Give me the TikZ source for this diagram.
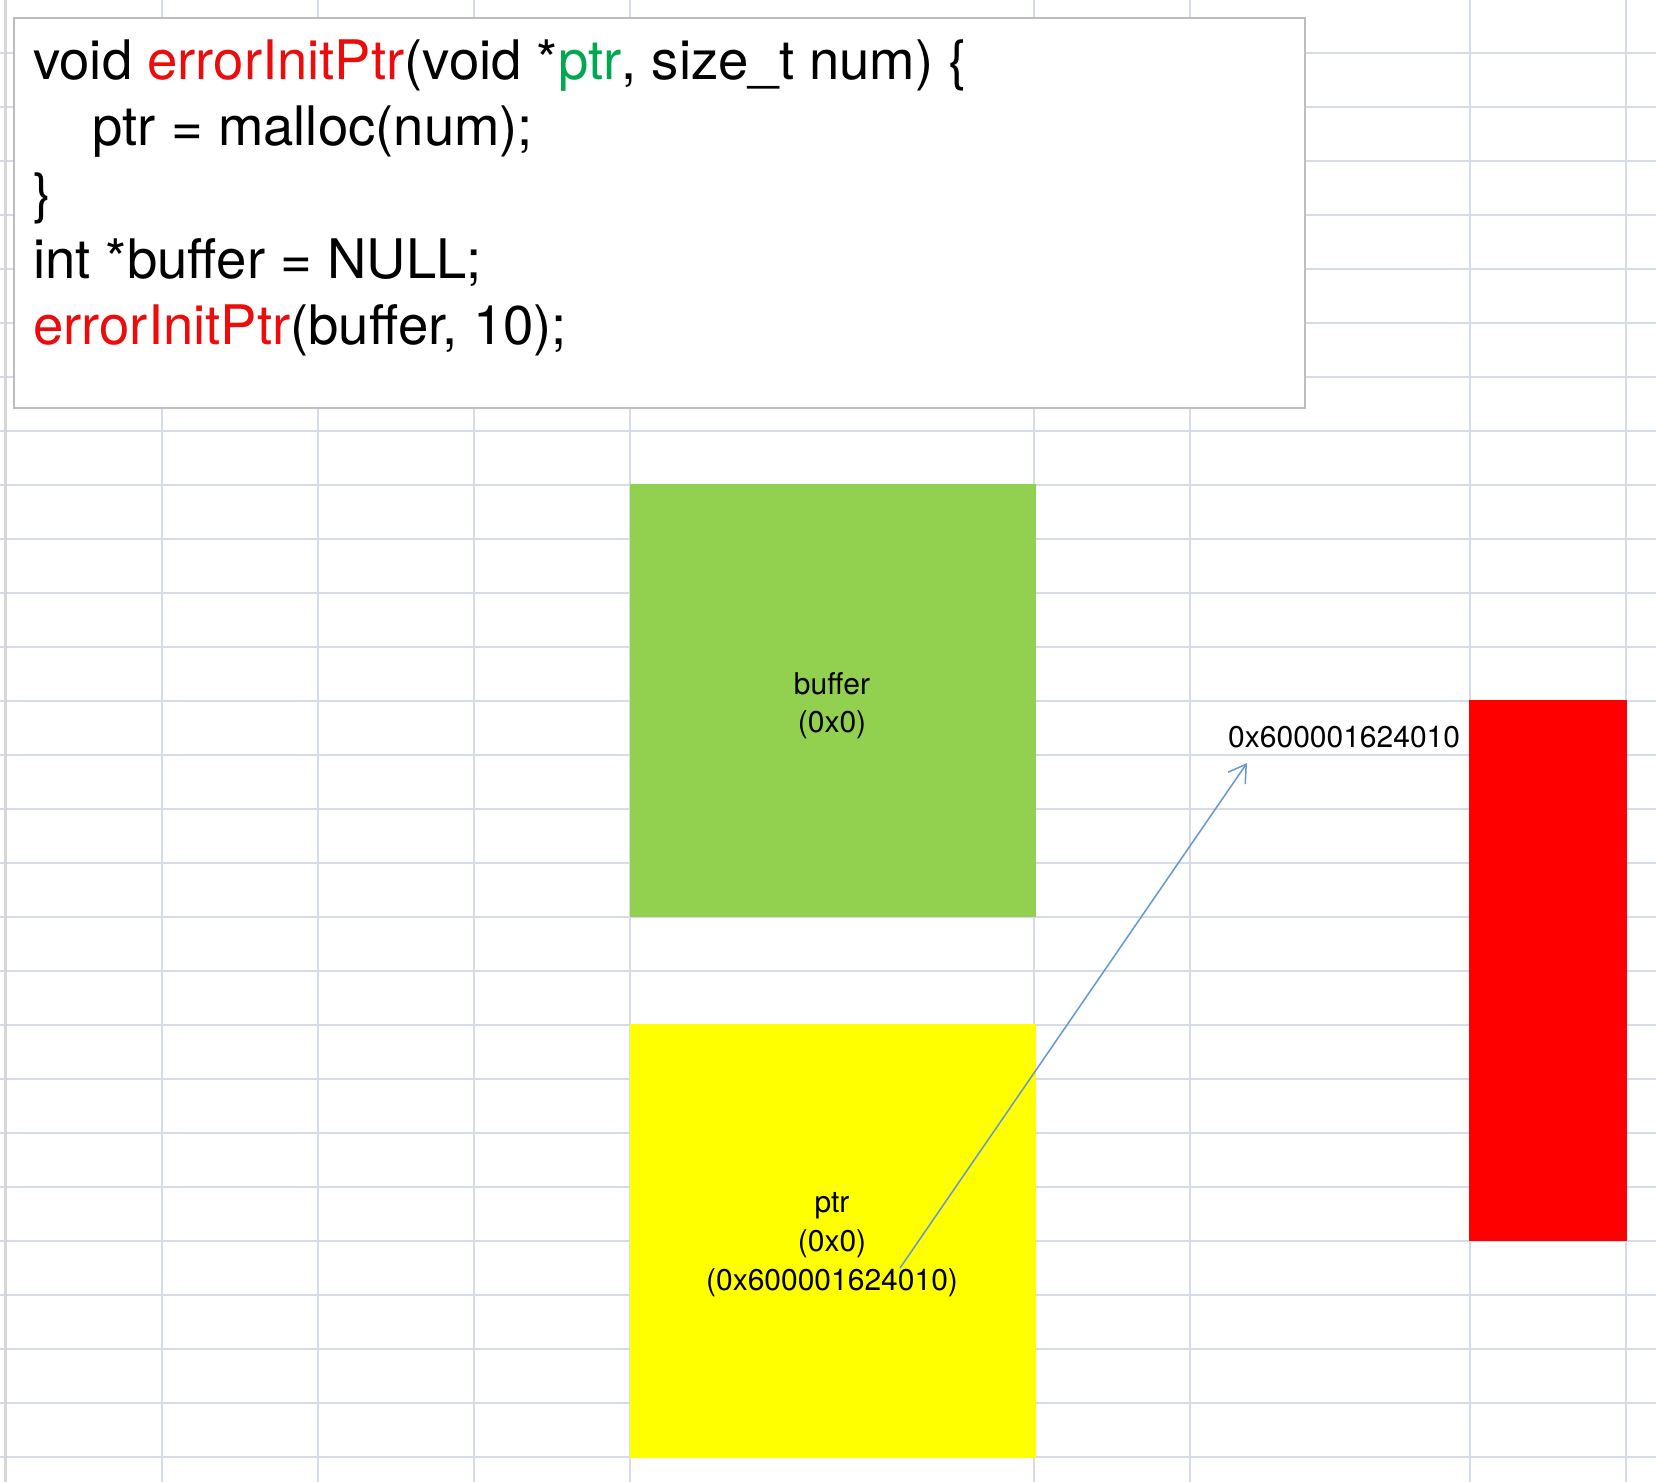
\documentclass[tikz,border=0pt]{standalone}
\usepackage{fontspec}
\setmainfont{TeX Gyre Heros}
\usetikzlibrary{arrows.meta}
\definecolor{gridc}{RGB}{214,219,232}
\definecolor{edgec}{RGB}{214,214,214}
\definecolor{boxborder}{RGB}{189,189,189}
\definecolor{fnred}{RGB}{236,12,12}
\definecolor{argg}{RGB}{0,168,80}
\definecolor{bufgreen}{RGB}{146,208,80}
\definecolor{ptryellow}{RGB}{255,255,0}
\definecolor{heapred}{RGB}{255,0,0}
\definecolor{arrowc}{RGB}{100,152,210}
\tikzset{
  gridline/.style={draw=gridc, line width=1.8pt},
  edgeline/.style={draw=edgec, line width=3pt},
  codebox/.style={draw=boxborder, fill=white, line width=2pt, inner sep=0pt, anchor=north west},
  codetxt/.style={anchor=base west, inner sep=0pt, font=\fontsize{54.5}{66}\selectfont, text=black},
  memcell/.style={inner sep=0pt, anchor=north west, draw=none},
  lbl/.style={anchor=base, inner sep=0pt, font=\fontsize{30}{38}\selectfont, text=black},
  ptrarrow/.style={draw=arrowc, line width=1.5pt, -{Straight Barb[length=17pt,width=21pt]}}
}
\begin{document}
\begin{tikzpicture}[x=1pt,y=-1pt]
\useasboundingbox (0,0) rectangle (1656,1482);
\fill[white] (0,0) rectangle (1656,1482);
% spreadsheet grid
\foreach \k in {0,...,26} \draw[gridline] (0,{52.7+54*\k}) -- (1656,{52.7+54*\k});
\foreach \x in {161.7,317.8,474,630,1034,1190,1470,1626} \draw[gridline] (\x,0) -- (\x,1482);
\draw[edgeline] (5,0) -- (5,1482);
% code box
\node[codebox, minimum width=1291pt, minimum height=390pt] (codebox) at (13,16.7) {};
\node[codetxt] (l1) at (33,80) {void \textcolor{fnred}{errorInitPtr}(void *\textcolor{argg}{ptr}, size\_t num) \{};
\node[codetxt] (l2) at (92.5,146) {ptr = malloc(num);};
\node[codetxt] (l3) at (33,212) {\}};
\node[codetxt] (l4) at (33,278) {int *buffer = NULL;};
\node[codetxt] (l5) at (33,344) {\textcolor{fnred}{errorInitPtr}(buffer, 10);};
% memory cells
\node[memcell, fill=bufgreen, minimum width=406pt, minimum height=433pt] (buffer) at (629.3,484) {};
\node[lbl] (buft1) at (832,694) {buffer};
\node[lbl] (buft2) at (832,732) {(0x0)};
\node[memcell, fill=ptryellow, minimum width=406pt, minimum height=433.3pt] (ptrcell) at (629.3,1024) {};
\node[lbl] (ptrt1) at (832,1212.5) {ptr};
\node[lbl] (ptrt2) at (832,1251.5) {(0x0)};
\node[lbl] (ptrt3) at (832,1290.5) {(0x600001624010)};
\node[memcell, fill=heapred, minimum width=158pt, minimum height=541pt] (heap) at (1469,700) {};
\node[lbl, anchor=base west] (addr) at (1228,747.7) {0x600001624010};
% arrow
\coordinate (from) at (900,1268);
\coordinate (to) at (1247,763);
\draw[ptrarrow] (from) -- (to);
\end{tikzpicture}
\end{document}
